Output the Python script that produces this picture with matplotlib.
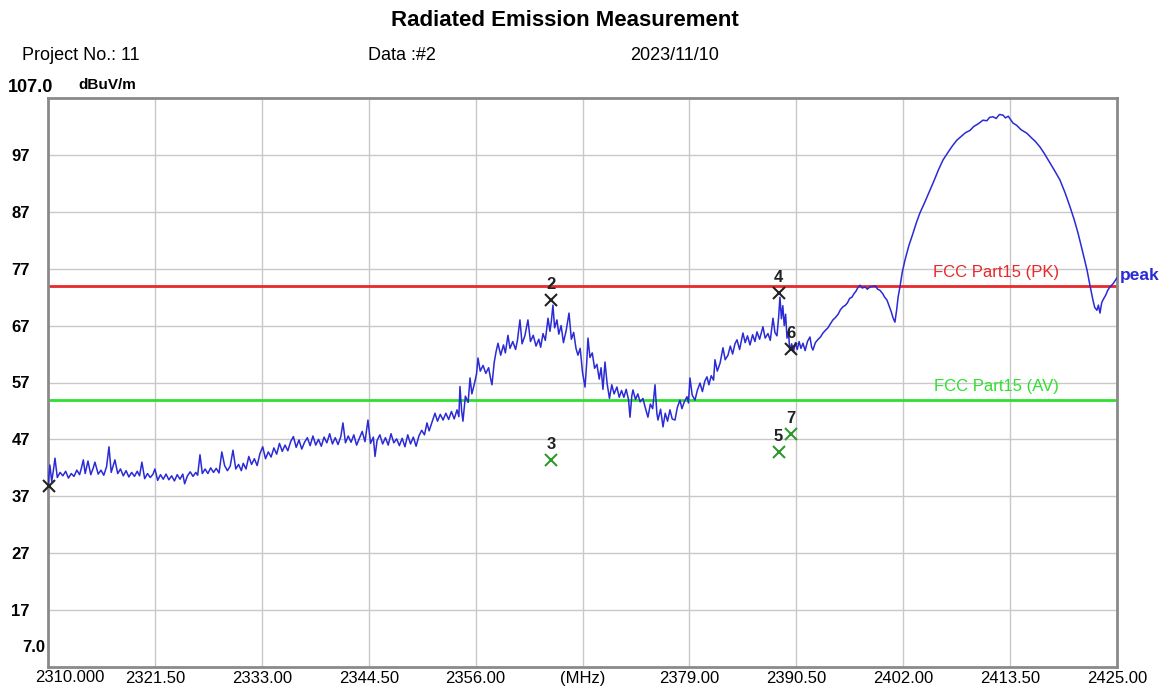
import matplotlib
matplotlib.use("Agg")
import matplotlib.pyplot as plt

plt.rcParams['font.family'] = ['Liberation Sans', 'DejaVu Sans']

# ---- data ----
freq = [
    2310.0, 2310.2, 2310.4, 2310.6, 2310.75, 2311.0, 2311.3, 2311.6, 2311.9, 2312.2,
    2312.5, 2312.8, 2313.1, 2313.4, 2313.6, 2313.8, 2314.0, 2314.3, 2314.6, 2314.85,
    2315.05, 2315.4, 2315.7, 2316.0, 2316.3, 2316.56, 2316.8, 2317.0, 2317.2, 2317.5,
    2317.8, 2318.1, 2318.4, 2318.7, 2319.0, 2319.3, 2319.6, 2319.85, 2320.1, 2320.4,
    2320.7, 2321.0, 2321.3, 2321.5, 2321.8, 2322.1, 2322.4, 2322.7, 2323.0, 2323.3,
    2323.6, 2323.9, 2324.2, 2324.5, 2324.7, 2325.0, 2325.3, 2325.6, 2325.9, 2326.1,
    2326.35, 2326.6, 2326.9, 2327.2, 2327.5, 2327.8, 2328.1, 2328.4, 2328.7, 2329.0,
    2329.3, 2329.6, 2329.9, 2330.2, 2330.5, 2330.8,
    2331.0, 2331.3, 2331.6, 2331.9, 2332.2, 2332.5, 2332.8, 2333.1, 2333.4, 2333.7,
    2334.0, 2334.3, 2334.6, 2334.9, 2335.2, 2335.5, 2335.8, 2336.1, 2336.4, 2336.7,
    2337.0, 2337.3, 2337.6, 2337.9, 2338.2, 2338.5, 2338.8, 2339.1, 2339.4, 2339.7,
    2340.0, 2340.3, 2340.6, 2340.9, 2341.2, 2341.5, 2341.73, 2342.0, 2342.3, 2342.6,
    2342.9, 2343.2, 2343.5, 2343.8, 2344.1, 2344.42, 2344.7, 2345.0, 2345.18, 2345.4,
    2345.7, 2346.0, 2346.3, 2346.6, 2346.9, 2347.2, 2347.5, 2347.8, 2348.1, 2348.4,
    2348.7, 2349.0, 2349.3, 2349.6, 2349.9,
    2350.2, 2350.5, 2350.77, 2351.0, 2351.3, 2351.63, 2351.9, 2352.2, 2352.5, 2352.8,
    2353.1, 2353.4, 2353.7, 2354.0, 2354.2, 2354.32, 2354.5, 2354.64, 2354.9, 2355.2,
    2355.4, 2355.6, 2355.9, 2356.1, 2356.26, 2356.5, 2356.8, 2357.1, 2357.4, 2357.6,
    2357.76, 2358.0, 2358.2, 2358.41, 2358.7, 2359.0, 2359.2, 2359.48, 2359.7, 2360.0,
    2360.3, 2360.5, 2360.77, 2361.0, 2361.3, 2361.63, 2361.9, 2362.2, 2362.5, 2362.8,
    2363.0, 2363.25, 2363.5, 2363.79, 2364.0, 2364.15, 2364.32, 2364.5, 2364.75, 2364.95,
    2365.2, 2365.45, 2365.75, 2366.05, 2366.3, 2366.55, 2366.8, 2367.01, 2367.25, 2367.5,
    2367.77, 2367.95, 2368.09, 2368.3, 2368.55, 2368.8, 2369.05, 2369.3, 2369.5, 2369.7,
    2369.92, 2370.15,
    2370.4, 2370.65, 2370.9, 2371.2, 2371.45, 2371.7, 2371.95, 2372.2, 2372.45, 2372.61,
    2372.8, 2372.93, 2373.2, 2373.45, 2373.7, 2374.0, 2374.25, 2374.54, 2374.8, 2375.05,
    2375.3, 2375.5, 2375.62, 2375.9, 2376.16, 2376.4, 2376.65, 2376.91, 2377.15, 2377.45,
    2377.7, 2377.98, 2378.2, 2378.45, 2378.74, 2378.9, 2379.06, 2379.3, 2379.6, 2379.85,
    2380.14, 2380.4, 2380.65, 2380.89, 2381.1, 2381.35, 2381.6, 2381.75, 2382.0, 2382.3,
    2382.61, 2382.85, 2383.15, 2383.4, 2383.65, 2383.9, 2384.12, 2384.4, 2384.76, 2385.0,
    2385.25, 2385.52, 2385.8, 2386.05, 2386.27, 2386.55, 2386.91, 2387.15, 2387.45, 2387.7,
    2387.99, 2388.2, 2388.42, 2388.6, 2388.74, 2388.9, 2389.05, 2389.2, 2389.35, 2389.5,
    2389.65, 2389.8, 2390.0, 2390.2, 2390.4, 2390.6, 2390.8, 2391.0, 2391.22, 2391.45,
    2391.7, 2391.97, 2392.15, 2392.29, 2392.55, 2392.8, 2393.1, 2393.37,
    2393.65, 2393.9, 2394.2, 2394.44, 2394.7, 2395.0, 2395.25, 2395.52, 2395.8, 2396.0,
    2396.25, 2396.49, 2396.7, 2396.9, 2397.1, 2397.35, 2397.6, 2397.9, 2398.15, 2398.42,
    2398.7, 2399.0, 2399.25, 2399.5, 2399.8, 2400.0, 2400.25, 2400.5, 2400.7, 2400.9,
    2401.11, 2401.3, 2401.45, 2401.65, 2401.9, 2402.19, 2402.6, 2403.05, 2403.4, 2403.8,
    2404.3, 2404.88, 2405.3, 2405.8, 2406.28, 2406.8, 2407.3, 2407.78, 2408.2, 2408.7,
    2409.18, 2409.6, 2410.1, 2410.58, 2411.0, 2411.3, 2411.66, 2412.0, 2412.35, 2412.73,
    2413.0, 2413.3, 2413.81, 2414.2, 2414.7, 2415.31, 2415.8, 2416.2, 2416.71, 2417.2,
    2417.79, 2418.3, 2418.86, 2419.4, 2419.94, 2420.4, 2420.8, 2421.3, 2421.77, 2422.1,
    2422.41, 2422.6, 2422.84, 2423.0, 2423.17, 2423.35, 2423.49, 2423.8, 2424.0, 2424.24,
    2424.6, 2425.0]
level = [
    38.8, 42.5, 39.6, 41.8, 43.7, 40.3, 41.2, 40.6, 41.4, 40.2,
    41.0, 40.5, 41.6, 40.8, 42.0, 43.4, 41.0, 43.2, 40.8, 41.9,
    43.0, 40.9, 41.6, 40.7, 42.2, 45.7, 41.2, 42.3, 43.4, 41.0,
    41.8, 40.6, 41.5, 40.4, 41.2, 40.5, 41.4, 40.6, 43.0, 40.1,
    41.0, 40.3, 40.9, 41.8, 39.8, 40.8, 40.0, 40.9, 39.9, 40.6,
    39.7, 40.8, 40.0, 40.9, 39.2, 40.6, 41.3, 40.5, 41.2, 40.7,
    44.3, 41.0, 41.8, 41.0, 42.0, 41.2, 41.9, 41.1, 44.8, 42.4,
    41.5, 42.3, 45.1, 41.8, 42.6, 41.5,
    42.8, 41.8, 44.0, 42.6, 43.6, 42.4, 44.5, 45.7, 43.6, 44.8,
    43.9, 45.5, 44.4, 46.3, 44.9, 46.0, 45.0, 46.6, 47.5, 45.6,
    46.9, 45.3, 46.5, 47.3, 45.9, 47.6, 46.0, 47.0, 45.8, 47.4,
    46.4, 48.0, 46.2, 47.3, 46.1, 47.5, 49.9, 46.4, 47.6, 46.5,
    47.8, 46.0, 47.2, 48.4, 46.6, 50.4, 46.3, 47.4, 44.0, 46.8,
    47.8, 46.2, 47.3, 46.0, 48.0, 46.4, 47.1, 45.9, 47.2, 45.7,
    47.8, 46.2, 47.4, 45.8, 47.6,
    48.6, 47.8, 49.9, 48.5, 50.0, 51.6, 50.2, 51.4, 50.4, 51.6,
    50.5, 51.9, 50.6, 52.2, 51.0, 56.3, 52.0, 50.2, 54.6, 53.5,
    57.8, 55.0, 57.0, 58.5, 61.3, 59.0, 60.0, 58.6, 59.6, 57.8,
    56.6, 60.5, 62.4, 63.9, 61.8, 63.6, 62.2, 65.3, 63.0, 64.2,
    62.8, 64.4, 68.0, 63.8, 65.2, 68.0, 64.2, 65.3, 63.4, 64.6,
    63.2, 65.6, 64.4, 68.3, 66.0, 67.8, 70.6, 66.6, 68.0, 65.5,
    67.0, 64.0, 66.2, 69.2, 64.6, 65.8, 63.0, 61.8, 63.0, 58.8,
    56.2, 60.4, 64.8, 61.4, 62.2, 59.5, 60.2, 57.6, 59.6, 55.8,
    60.6, 56.8,
    54.2, 56.6, 55.0, 56.2, 54.4, 55.6, 54.4, 55.8, 54.0, 50.9,
    54.6, 55.7, 54.0, 55.0, 53.6, 54.2, 52.6, 50.9, 53.2, 52.4,
    56.6, 51.6, 50.4, 52.3, 49.2, 51.6, 50.2, 52.2, 50.6, 50.4,
    52.6, 53.9, 52.4, 53.6, 54.5, 53.4, 57.8, 54.8, 53.9, 55.6,
    56.9, 55.4, 57.2, 58.0, 56.6, 58.2, 57.4, 61.0, 59.0, 60.4,
    63.1, 61.0, 61.8, 63.4, 62.0, 63.8, 64.5, 62.8, 65.7, 64.0,
    65.2, 63.6, 65.4, 64.2, 65.9, 64.6, 66.8, 64.8, 65.6, 64.4,
    68.3, 65.8, 65.2, 68.5, 72.0, 68.2, 70.5, 67.0, 69.0, 64.8,
    66.0, 62.6, 63.8, 62.4, 64.0, 62.8, 64.2, 63.0, 63.9, 62.6,
    64.2, 65.0, 63.2, 62.7, 64.0, 64.5, 65.0, 65.7,
    66.2, 66.6, 67.4, 68.0, 68.4, 69.0, 69.8, 70.3, 70.6, 71.0,
    71.8, 72.0, 72.6, 73.0, 73.6, 74.1, 73.6, 73.8, 73.4, 73.8,
    73.9, 74.0, 73.4, 73.2, 72.6, 72.0, 71.5, 70.4, 69.5, 68.4,
    67.6, 69.8, 72.0, 73.8, 76.4, 78.5, 81.0, 83.2, 85.0, 86.8,
    88.6, 90.8, 92.4, 94.4, 96.1, 97.4, 98.6, 99.6, 100.2, 100.9,
    101.3, 102.0, 102.5, 103.1, 103.0, 103.6, 103.7, 103.4, 104.1, 104.0,
    103.5, 103.8, 102.6, 102.2, 101.4, 100.8, 100.0, 99.4, 98.4, 97.2,
    95.6, 94.2, 92.6, 90.4, 87.9, 85.6, 83.3, 80.0, 76.8, 74.0,
    71.5, 70.2, 69.7, 70.6, 69.2, 71.0, 71.5, 72.4, 73.2, 73.8,
    74.4, 75.4]

limit_pk = 74.0
limit_av = 54.0

mk_no = ['1', '2', '3', '4', '5', '6', '7']
mk_freq = [2310.1, 2364.1, 2364.1, 2388.6, 2388.6, 2389.9, 2389.9]
mk_level = [38.8, 71.5, 43.4, 72.7, 44.8, 62.9, 48.0]
mk_kind = ['pk', 'pk', 'av', 'pk', 'av', 'pk', 'av']

xticks = [2310.0, 2321.5, 2333.0, 2344.5, 2356.0, 2367.5, 2379.0, 2390.5, 2402.0, 2413.5, 2425.0]
xticklabels = ['2310.000', '2321.50', '2333.00', '2344.50', '2356.00', '(MHz)',
               '2379.00', '2390.50', '2402.00', '2413.50', '2425.00']
yticks = [17, 27, 37, 47, 57, 67, 77, 87, 97]

# ---- figure ----
fig = plt.figure(figsize=(11.63, 6.90), dpi=100)
ax = fig.add_axes([48/1163, 23/690, 1069/1163, 569/690])
ax.set_xlim(2310, 2425)
ax.set_ylim(7, 107)

ax.set_xticks(xticks)
ax.set_xticklabels([''] + xticklabels[1:], fontsize=12)
ax.set_yticks(yticks)
ax.set_yticklabels([str(v) for v in yticks], fontsize=12, fontweight='bold')
ax.tick_params(length=0, pad=3)
ax.tick_params(axis='y', pad=13)
ax.grid(True, color='#c8c8c8', linewidth=1)
ax.set_axisbelow(True)
for s in ax.spines.values():
    s.set_color('#8a8a8a')
    s.set_linewidth(2)

ax.axhline(limit_pk, color='#e8282a', linewidth=2, zorder=2)
ax.axhline(limit_av, color='#2ee02e', linewidth=2, zorder=2)
ax.text(2412.0, limit_pk + 1.0, 'FCC Part15 (PK)', color='#e8282a', fontsize=12,
        ha='center', va='bottom')
ax.text(2412.0, limit_av + 1.0, 'FCC Part15 (AV)', color='#2ee02e', fontsize=12,
        ha='center', va='bottom')

ax.plot(freq, level, color='#2a2ad6', linewidth=1.1, zorder=3)
ax.text(1.003, (75.8 - 7) / 100, 'peak', transform=ax.transAxes, color='#2a2ad6',
        fontsize=12.5, fontweight='bold', ha='left', va='center', clip_on=False)

for no, f, l, k in zip(mk_no, mk_freq, mk_level, mk_kind):
    c = '#222222' if k == 'pk' else '#2e9a2e'
    ax.plot(f, l, marker='x', markersize=8, mew=1.5, color=c, zorder=4, clip_on=False)
    if no != '1':
        ax.text(f, l + 1.4, no, color='#222222', fontsize=12, fontweight='bold',
                ha='center', va='bottom', zorder=5)

fig.text(565/1163, 1 - 20/690, 'Radiated Emission Measurement', fontsize=16,
         fontweight='bold', ha='center', va='center')
fig.text(22/1163, 1 - 56/690, 'Project No.: 11', fontsize=13, ha='left', va='center')
fig.text(368/1163, 1 - 56/690, 'Data :#2', fontsize=13, ha='left', va='center')
fig.text(630/1163, 1 - 56/690, '2023/11/10', fontsize=13, ha='left', va='center')
fig.text(8/1163, 1 - 88/690, '107.0', fontsize=13, fontweight='bold', ha='left', va='center')
fig.text(78/1163, 1 - 85/690, 'dBuV/m', fontsize=11, fontweight='bold', ha='left', va='center')
fig.text(22/1163, 1 - 648/690, '7.0', fontsize=12, fontweight='bold', ha='left', va='center')
fig.text(35/1163, 1 - 677/690, xticklabels[0], fontsize=12, ha='left', va='center')

fig.savefig('out.png', dpi=100, facecolor='white')
